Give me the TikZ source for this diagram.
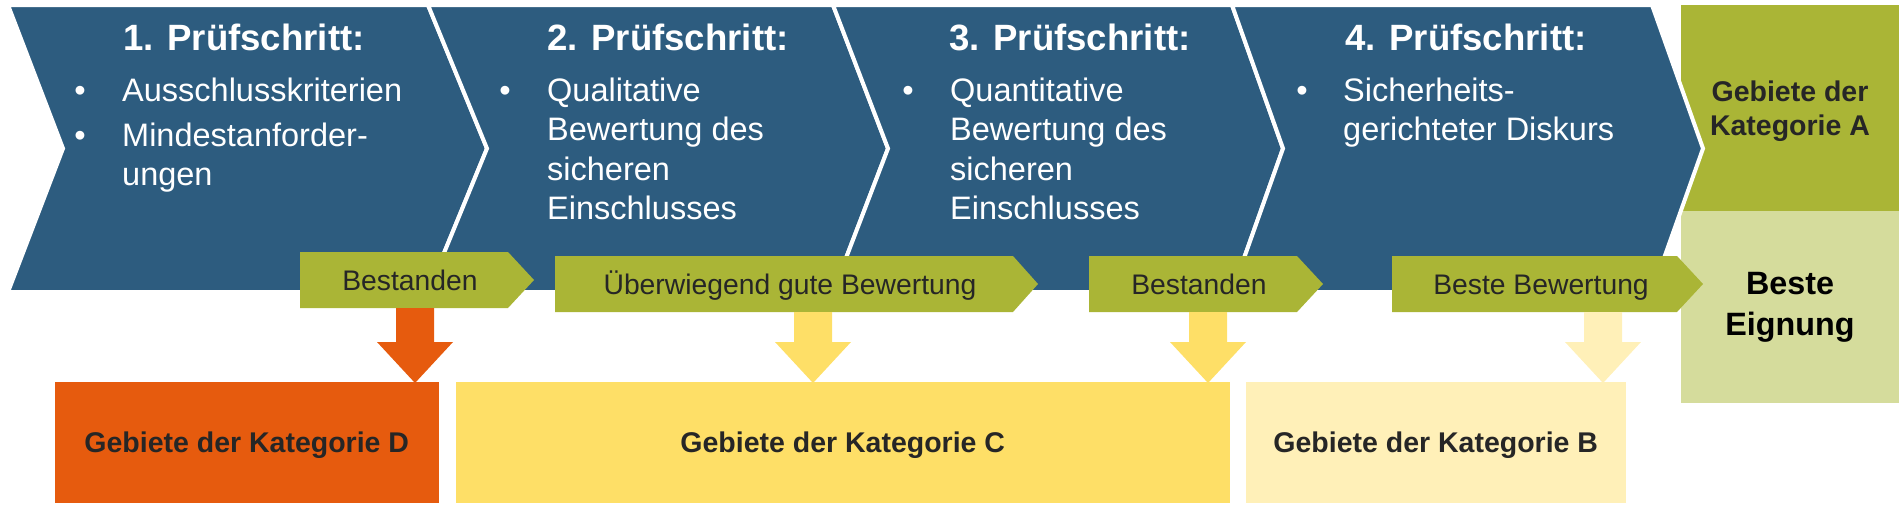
\documentclass[tikz,border=0pt]{standalone}
\usepackage{fontspec}
\setmainfont{Liberation Sans}
\usetikzlibrary{calc}
\definecolor{stepblue}{HTML}{2D5C7F}
\definecolor{tagolive}{HTML}{AAB536}
\definecolor{catD}{HTML}{E65B0E}
\definecolor{catC}{HTML}{FEDF67}
\definecolor{catB}{HTML}{FFF0B8}
\definecolor{catA}{HTML}{AAB536}
\definecolor{bestfill}{HTML}{D5DC9C}
\definecolor{darktext}{HTML}{262626}
\newcommand\blockarrow[3]{%
  \fill[#3] let \p1=(#1), \p2=(#1 |- #2.north) in
    (\x1-19pt,\y1) -- (\x1+19pt,\y1) -- (\x1+19pt,\y2+38pt) -- (\x1+38pt,\y2+38pt)
    -- (\x1,\y2-3pt) -- (\x1-38pt,\y2+38pt) -- (\x1-19pt,\y2+38pt) -- cycle;}
\begin{document}
\begin{tikzpicture}[x=1pt,y=-1pt,
  chev/.style={fill=stepblue, draw=white, line width=4pt, line join=miter},
  headtxt/.style={text=white, font=\bfseries\fontsize{36.6}{44}\selectfont, inner sep=0, anchor=base},
  bulletdot/.style={text=white, font=\fontsize{32.5}{39.5}\selectfont, inner sep=0, anchor=base},
  bultxt/.style={text=white, font=\fontsize{32.5}{39.5}\selectfont, inner sep=0, anchor=base west, align=left},
  tagshape/.style={fill=tagolive},
  tagtxt/.style={text=darktext, font=\fontsize{28.3}{34}\selectfont, inner sep=0, anchor=base},
  catbox/.style={draw=white, line width=1.5pt, inner sep=0, anchor=north west, minimum height=123pt,
    font=\bfseries\fontsize{28.5}{34}\selectfont, text=darktext, text height=21pt, text depth=0pt},
  sidebox/.style={inner sep=0, anchor=north west, minimum width=218pt},
  sidetxt/.style={font=\bfseries\fontsize{28.5}{34}\selectfont, text=darktext, inner sep=0, anchor=base, align=center},
  besttxt/.style={font=\bfseries\fontsize{32.3}{41}\selectfont, text=black, inner sep=0, anchor=base, align=center}
]
\useasboundingbox (0,0) rectangle (1900,506);

% chevrons 1-3
\path[chev] (8,5) -- (428,5) -- (487,148.5) -- (428,292) -- (8,292) -- (63,148.5) -- cycle;
\path[chev] (428,5) -- (833,5) -- (888,148.5) -- (833,292) -- (428,292) -- (487,148.5) -- cycle;
\path[chev] (833,5) -- (1232,5) -- (1283,148.5) -- (1232,292) -- (833,292) -- (888,148.5) -- cycle;

% side boxes A and best
\node[sidebox, fill=catA, minimum height=206pt] (boxA) at (1681,5) {};
\node[sidebox, fill=bestfill, minimum height=192pt] (boxBest) at (1681,211) {};

% chevron 4
\path[chev] (1232,5) -- (1652,5) -- (1703,148.5) -- (1652,292) -- (1232,292) -- (1283,148.5) -- cycle;

% headings
\node[headtxt] (h1) at (244,50) {1. Prüfschritt:};
\node[headtxt] (h2) at (668,50) {2. Prüfschritt:};
\node[headtxt] (h3) at (1070,50) {3. Prüfschritt:};
\node[headtxt] (h4) at (1466,50) {4. Prüfschritt:};

% bullets (multi-line nodes are anchored at the baseline of their last line)
\node[bulletdot] (d1a) at (80,101) {•};
\node[bultxt] (s1a) at (122,101) {Ausschlusskriterien};
\node[bulletdot] (d1b) at (80,146) {•};
\node[bultxt] (s1b) at (122,185.5) {Mindestanforder-\\ungen};
\node[bulletdot] (d2) at (505,101) {•};
\node[bultxt] (s2) at (547,219.5) {Qualitative\\Bewertung des\\sicheren\\Einschlusses};
\node[bulletdot] (d3) at (908,101) {•};
\node[bultxt] (s3) at (950,219.5) {Quantitative\\Bewertung des\\sicheren\\Einschlusses};
\node[bulletdot] (d4) at (1302,101) {•};
\node[bultxt] (s4) at (1343,140.5) {Sicherheits-\\gerichteter Diskurs};

% side texts
\node[sidetxt] (tA) at (1790,135) {Gebiete der\\Kategorie A};
\node[besttxt] (tBest) at (1790,335) {Beste\\Eignung};

% tags
\fill[tagshape] (300,252) -- (508,252) -- (534,280) -- (508,308) -- (300,308) -- cycle;
\node[tagtxt] (g1) at (410,290) {Bestanden};
\coordinate (g1s) at (415,308);
\fill[tagshape] (555,256) -- (1013,256) -- (1038,284) -- (1013,312) -- (555,312) -- cycle;
\node[tagtxt] (g2) at (790,294) {Überwiegend gute Bewertung};
\coordinate (g2s) at (813,312);
\fill[tagshape] (1089,256) -- (1297,256) -- (1323,284) -- (1297,312) -- (1089,312) -- cycle;
\node[tagtxt] (g3) at (1199,294) {Bestanden};
\coordinate (g3s) at (1208,312);
\fill[tagshape] (1392,256) -- (1677,256) -- (1703,284) -- (1677,312) -- (1392,312) -- cycle;
\node[tagtxt] (g4) at (1541,294) {Beste Bewertung};
\coordinate (g4s) at (1603,312);

% category boxes
\node[catbox, fill=catD, minimum width=386pt] (boxD) at (53,380) {Gebiete der Kategorie D};
\node[catbox, fill=catC, minimum width=776pt] (boxC) at (454,380) {Gebiete der Kategorie C};
\node[catbox, fill=catB, minimum width=382pt] (boxB) at (1244,380) {Gebiete der Kategorie B};

% block arrows
\blockarrow{g1s}{boxD}{catD}
\blockarrow{g2s}{boxC}{catC}
\blockarrow{g3s}{boxC}{catC}
\blockarrow{g4s}{boxB}{catB}
\end{tikzpicture}
\end{document}
